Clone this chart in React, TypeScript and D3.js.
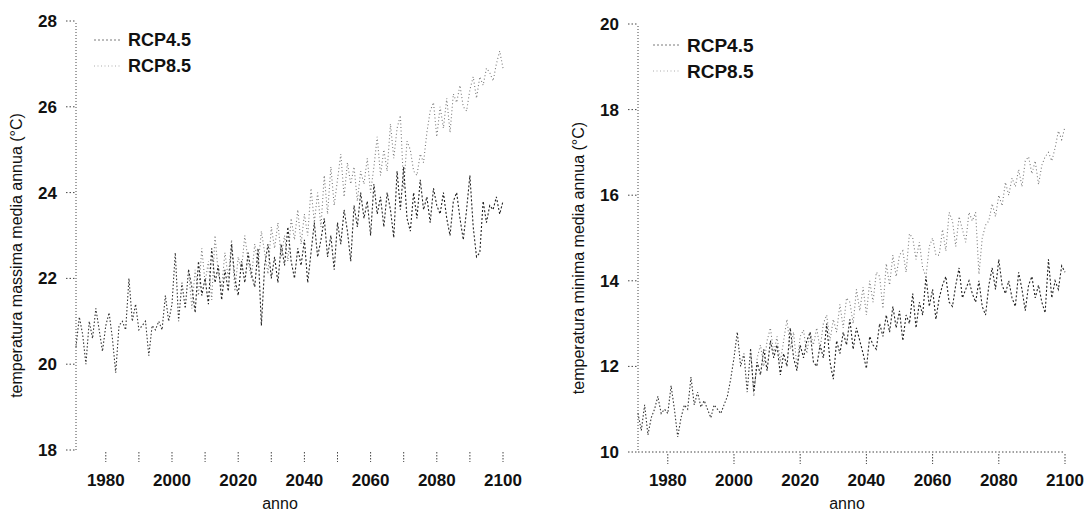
import { line, range, scaleLinear, select } from "d3";
import { useEffect, useRef } from "react";

// annual series, values (°C)
const histStart = 1971;
const rcpStart = 2006;

const tmaxHist = [
  20.4, 21.1, 20.7, 20.0, 21.0, 20.6, 21.3, 20.8, 20.3, 20.9,
  21.2, 20.6, 19.8, 20.9, 21.0, 20.8, 22.0, 21.0, 21.4, 20.8,
  20.9, 21.0, 20.2, 20.9, 20.8, 21.0, 20.8, 21.6, 21.0, 21.4,
  22.6, 21.0, 21.9, 21.3, 22.2,
];
const tmaxRcp45 = [
  21.8, 21.2, 22.4, 21.6, 22.0, 21.4, 22.7, 21.9, 22.3, 21.5,
  22.2, 21.7, 22.8, 22.0, 21.6, 22.4, 21.9, 22.6, 22.1, 21.8,
  22.7, 20.9, 22.3, 22.8, 22.0, 22.5, 21.9, 22.8, 22.3, 23.2,
  22.4, 22.0, 22.7, 22.3, 22.9, 21.9, 22.6, 23.3, 22.5, 22.9,
  23.4, 22.5, 23.0, 22.2, 23.3, 22.8, 23.6, 23.1, 22.4, 23.7,
  23.2, 24.0, 23.4, 23.8, 23.0, 24.2, 23.5, 23.9, 23.2, 24.0,
  23.6, 22.95, 24.5, 23.6, 24.6, 23.4, 23.1, 24.0, 23.4, 24.3,
  23.6, 23.9, 23.3, 24.1, 23.7, 23.5, 24.0, 23.4, 23.0, 23.8,
  24.0, 23.4, 22.9, 23.6, 24.4, 23.2, 22.5, 22.6, 23.8, 23.3,
  23.7, 23.6, 23.9, 23.5, 23.8,
];
const tmaxRcp85 = [
  21.3, 22.2, 21.6, 22.7, 21.9, 22.4, 21.5, 23.0, 22.1, 21.8,
  22.6, 22.0, 22.9, 21.7, 22.5, 22.2, 23.0, 22.4, 22.0, 22.8,
  22.3, 23.1, 22.6, 22.1, 23.2, 22.7, 23.3, 22.5, 23.0, 22.4,
  23.4, 22.9, 23.6, 22.8, 23.5, 23.0, 24.1, 23.3, 24.0, 23.2,
  24.4, 23.5, 24.6, 23.7, 24.3, 24.9, 23.9, 24.7, 24.2, 24.6,
  23.8, 24.5, 24.2, 24.8, 24.0, 24.6, 25.3, 24.4, 25.0, 24.5,
  25.6, 24.8, 25.5, 25.8, 24.1, 25.2, 25.0, 24.5, 24.4, 24.9,
  24.7, 25.4, 25.9, 26.1, 25.3, 26.0, 25.5, 26.2, 25.4, 26.3,
  26.1, 26.5, 26.0, 25.9, 26.4, 26.7, 26.2, 26.7, 26.5, 26.9,
  26.8, 26.6, 27.0, 27.3, 26.9,
];

const tminHist = [
  10.9, 10.5, 11.1, 10.4, 10.8, 11.0, 11.3, 10.9, 11.0, 10.9,
  11.55, 11.0, 10.35, 10.8, 11.1, 11.0, 11.75, 11.1, 11.4, 11.05,
  11.2, 11.0, 10.8, 11.1, 11.0, 10.9, 11.1, 11.3, 11.7, 12.2,
  12.8, 12.0, 12.3, 11.4, 12.4,
];
const tminRcp45 = [
  11.4, 12.1, 11.8, 12.4, 11.9, 12.6, 12.2, 12.5, 11.8, 12.3,
  12.0, 12.9, 12.2, 11.9, 12.5, 12.2, 12.6, 12.8, 12.1, 12.0,
  12.5, 12.2, 13.0, 12.1, 11.7, 12.6, 12.3, 12.8, 12.5, 13.1,
  12.4, 12.9, 12.6, 12.3, 11.95, 12.7, 12.5, 12.4, 13.0, 12.7,
  13.2, 12.8, 13.4, 12.9, 13.3, 12.6, 13.2, 13.0, 13.7, 12.9,
  13.5, 13.2, 14.1, 13.4, 13.8, 13.1, 13.6, 13.9, 14.1, 13.5,
  13.4, 13.9, 14.3, 13.6, 13.8, 14.0, 13.7, 13.5, 14.0, 13.4,
  13.2, 13.9, 14.3, 13.8, 14.5, 13.9, 13.7, 14.0, 13.6, 13.4,
  14.2, 13.8, 13.3, 13.9, 14.1, 13.6, 13.9, 13.5, 13.25, 14.5,
  13.6, 14.0, 13.8, 14.35, 14.2,
];
const tminRcp85 = [
  11.3, 12.2, 12.5, 12.0, 12.6, 12.9, 12.3, 12.7, 12.1, 12.6,
  13.1, 12.4, 12.8, 12.0, 12.7, 12.85, 12.3, 12.8, 12.5, 12.9,
  12.4, 13.0, 13.2, 12.6, 13.1, 12.8, 13.45, 12.9, 13.6, 13.5,
  13.0, 13.8, 13.3, 13.85, 13.2, 14.0, 13.5, 14.2, 14.1, 13.35,
  14.4, 13.9, 14.6, 14.1, 14.6, 14.7, 14.2, 15.1, 15.0, 14.5,
  14.9, 14.3, 14.1, 14.8, 15.0, 14.6, 14.6, 15.2, 14.7, 15.6,
  15.4, 14.8, 15.5, 15.2, 14.9, 15.6, 15.4, 15.6, 14.15, 15.0,
  15.3, 15.4, 15.8, 15.5, 16.0, 15.75, 16.3, 16.0, 16.4, 16.2,
  16.6, 16.2, 16.8, 16.9, 16.5, 16.8, 16.25, 16.7, 16.9, 17.0,
  16.8, 17.1, 17.5, 17.3, 17.6,
];

const yearLabels = [1980, 2000, 2020, 2040, 2060, 2080, 2100];
const scenarioNames = ["RCP4.5", "RCP8.5"];
const xLabel = "anno";

const font = "'Liberation Sans', Arial, sans-serif";
const styles = {
  hist: { stroke: "#333", dash: "1.5 2" },
  rcp45: { stroke: "#222", dash: "2 2" },
  rcp85: { stroke: "#777", dash: "1 2.5" },
};

interface Panel {
  hist: number[];
  rcp45: number[];
  rcp85: number[];
  yDomain: [number, number];
  yTicks: number[];
  title: string;
  x0: number;
  x1: number;
  yTop: number;
  yBottom: number;
  minorTicks: boolean;
  xAxisLine: boolean;
  legendX: number;
  legendY: number;
  legendSize: number;
  xLabelX: number;
}

const panels: Panel[] = [
  {
    hist: tmaxHist,
    rcp45: tmaxRcp45,
    rcp85: tmaxRcp85,
    yDomain: [18, 28],
    yTicks: [18, 20, 22, 24, 26, 28],
    title: "temperatura massima media annua (°C)",
    x0: 76,
    x1: 503,
    yTop: 21,
    yBottom: 450,
    minorTicks: true,
    xAxisLine: false,
    legendX: 128,
    legendY: 40,
    legendSize: 18,
    xLabelX: 280,
  },
  {
    hist: tminHist,
    rcp45: tminRcp45,
    rcp85: tminRcp85,
    yDomain: [10, 20],
    yTicks: [10, 12, 14, 16, 18, 20],
    title: "temperatura minima media annua (°C)",
    x0: 638,
    x1: 1065,
    yTop: 24,
    yBottom: 452,
    minorTicks: false,
    xAxisLine: true,
    legendX: 687,
    legendY: 45,
    legendSize: 19,
    xLabelX: 847,
  },
];

export default function App() {
  const svgRef = useRef<SVGSVGElement | null>(null);

  useEffect(() => {
    if (!svgRef.current) return;
    const svg = select(svgRef.current);
    svg.selectAll("*").remove();

    svg.append("rect").attr("width", 1088).attr("height", 513).attr("fill", "#fff");

    for (const p of panels) {
      const x = scaleLinear().domain([histStart, 2100]).range([p.x0, p.x1]);
      const y = scaleLinear().domain(p.yDomain).range([p.yBottom, p.yTop]);
      const g = svg.append("g").attr("font-family", font).attr("fill", "#111");

      // y axis (dotted, as in the scan)
      g.append("line")
        .attr("x1", p.x0).attr("x2", p.x0)
        .attr("y1", y(p.yDomain[1]) + 2).attr("y2", y(p.yDomain[0]))
        .attr("stroke", "#444").attr("stroke-dasharray", "1 2");
      g.selectAll(".ytick")
        .data(p.yTicks)
        .join("line")
        .attr("x1", p.x0 - 10).attr("x2", p.x0)
        .attr("y1", (d) => y(d)).attr("y2", (d) => y(d))
        .attr("stroke", "#444").attr("stroke-dasharray", "1.5 2");
      g.selectAll(".ylab")
        .data(p.yTicks)
        .join("text")
        .attr("x", p.x0 - 19)
        .attr("y", (d) => y(d))
        .attr("dy", "0.35em")
        .attr("text-anchor", "end")
        .attr("font-size", 17)
        .attr("font-weight", "bold")
        .text((d) => d);

      // x axis
      if (p.xAxisLine) {
        g.append("line")
          .attr("x1", p.x0).attr("x2", p.x1)
          .attr("y1", p.yBottom).attr("y2", p.yBottom)
          .attr("stroke", "#444").attr("stroke-dasharray", "1.5 2");
      }
      const tickYears = p.minorTicks ? range(1980, 2101, 10) : yearLabels;
      g.selectAll(".xtick")
        .data(tickYears)
        .join("line")
        .attr("x1", (d) => x(d)).attr("x2", (d) => x(d))
        .attr("y1", p.yBottom + 2).attr("y2", p.yBottom + 12)
        .attr("stroke", "#444").attr("stroke-dasharray", "1.5 1.5");
      g.selectAll(".xlab")
        .data(yearLabels)
        .join("text")
        .attr("x", (d) => x(d))
        .attr("y", 486)
        .attr("text-anchor", "middle")
        .attr("font-size", 17)
        .attr("font-weight", "bold")
        .text((d) => d);

      g.append("text")
        .attr("x", p.xLabelX)
        .attr("y", 509)
        .attr("text-anchor", "middle")
        .attr("font-size", 16)
        .text(xLabel);

      g.append("text")
        .attr("transform", `translate(${p.x0 - 54},${(p.yTop + p.yBottom) / 2 + 20}) rotate(-90)`)
        .attr("text-anchor", "middle")
        .attr("font-size", 16)
        .text(p.title);

      // series
      const histPts = p.hist.map((v, i) => [histStart + i, v] as [number, number]);
      const last = histPts[histPts.length - 1];
      const scen = (vals: number[]) => [last, ...vals.map((v, i) => [rcpStart + i, v] as [number, number])];
      const path = line<[number, number]>().x((d) => x(d[0])).y((d) => y(d[1]));

      const series = [
        { pts: scen(p.rcp85), s: styles.rcp85 },
        { pts: scen(p.rcp45), s: styles.rcp45 },
        { pts: histPts, s: styles.hist },
      ];
      for (const sr of series) {
        g.append("path")
          .attr("d", path(sr.pts))
          .attr("fill", "none")
          .attr("stroke", sr.s.stroke)
          .attr("stroke-width", 1.1)
          .attr("stroke-dasharray", sr.s.dash);
      }

      // legend
      const legendStyles = [styles.rcp45, styles.rcp85];
      scenarioNames.forEach((name, i) => {
        const ly = p.legendY + i * 26;
        g.append("line")
          .attr("x1", p.legendX - 34).attr("x2", p.legendX - 8)
          .attr("y1", ly).attr("y2", ly)
          .attr("stroke", legendStyles[i].stroke)
          .attr("stroke-opacity", 0.6)
          .attr("stroke-dasharray", legendStyles[i].dash);
        g.append("text")
          .attr("x", p.legendX)
          .attr("y", ly)
          .attr("dy", "0.35em")
          .attr("font-size", p.legendSize)
          .attr("font-weight", "bold")
          .text(name);
      });
    }
  }, []);

  return (
    <div style={{ position: "absolute", left: 0, top: 0 }}>
      <svg ref={svgRef} width={1088} height={513} role="img" aria-label="Temperature annue RCP4.5 e RCP8.5" />
    </div>
  );
}
